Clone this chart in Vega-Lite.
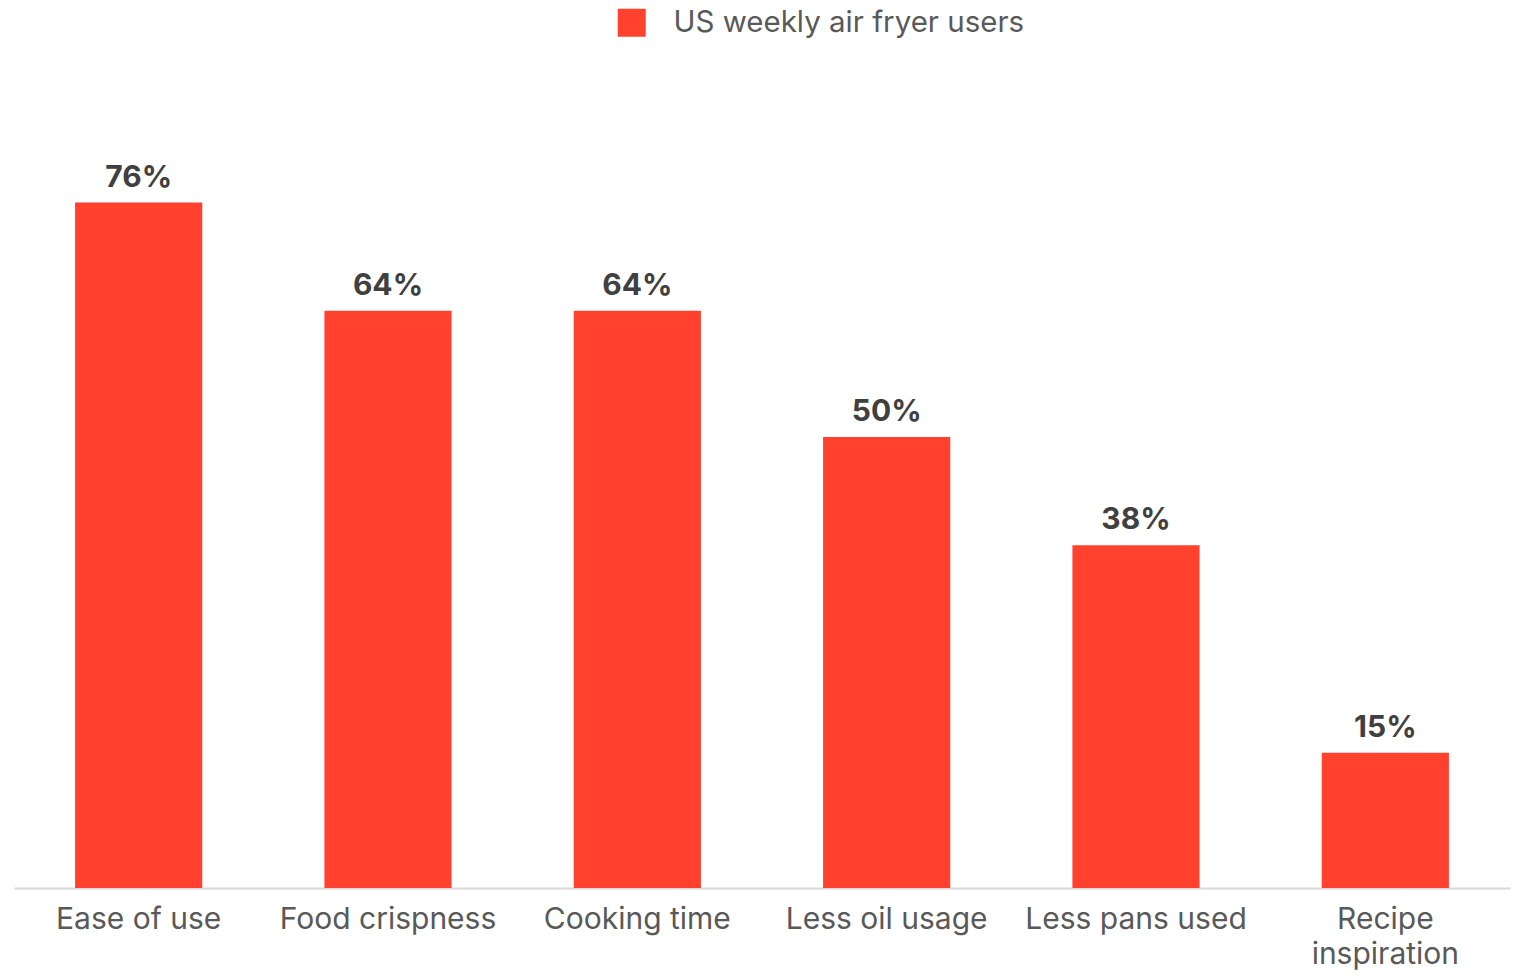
{
  "$schema": "https://vega.github.io/schema/vega-lite/v6.json",
  "autosize": {"type": "none"},
  "width": 1496,
  "height": 828,
  "padding": {"left": 14, "top": 60, "right": 6, "bottom": 89},
  "background": "white",
  "config": {
    "view": {"stroke": null},
    "font": "Inter"
  },
  "data": {
    "values": [
      {"reason": "Ease of use", "value": 0.76, "series": "US weekly air fryer users"},
      {"reason": "Food crispness", "value": 0.64, "series": "US weekly air fryer users"},
      {"reason": "Cooking time", "value": 0.64, "series": "US weekly air fryer users"},
      {"reason": "Less oil usage", "value": 0.50, "series": "US weekly air fryer users"},
      {"reason": "Less pans used", "value": 0.38, "series": "US weekly air fryer users"},
      {"reason": "Recipe inspiration", "value": 0.15, "series": "US weekly air fryer users"}
    ]
  },
  "encoding": {
    "x": {
      "field": "reason",
      "type": "nominal",
      "sort": null,
      "scale": {"paddingInner": 0.49, "paddingOuter": 0.245},
      "axis": {
        "title": null,
        "labelAngle": 0,
        "labelFontSize": 30,
        "labelFont": "Inter",
        "labelColor": "#595959",
        "labelPadding": 16,
        "labelLineHeight": 35,
        "labelLimit": 400,
        "ticks": false,
        "domainColor": "#d9d9d9",
        "domainWidth": 2,
        "labelExpr": "datum.label == 'Recipe inspiration' ? ['Recipe', 'inspiration'] : datum.label"
      }
    },
    "y": {
      "field": "value",
      "type": "quantitative",
      "scale": {"domain": [0, 0.918]},
      "axis": null
    }
  },
  "layer": [
    {
      "mark": {"type": "bar"},
      "encoding": {
        "color": {
          "field": "series",
          "type": "nominal",
          "scale": {"range": ["#ff412e"]},
          "legend": {
            "title": null,
            "orient": "none",
            "legendX": 603,
            "legendY": -52,
            "symbolType": "square",
            "symbolSize": 784,
            "symbolStrokeWidth": 0,
            "labelFont": "Inter",
            "labelFontSize": 29.5,
            "labelColor": "#595959",
            "labelOffset": 27,
            "labelLimit": 600
          }
        }
      }
    },
    {
      "mark": {
        "type": "text",
        "font": "Inter",
        "fontSize": 30,
        "fontWeight": "bold",
        "color": "#404040",
        "baseline": "alphabetic",
        "dy": -16
      },
      "encoding": {
        "text": {"field": "value", "type": "quantitative", "format": ".0%"},
        "detail": {"field": "series"}
      }
    }
  ]
}
